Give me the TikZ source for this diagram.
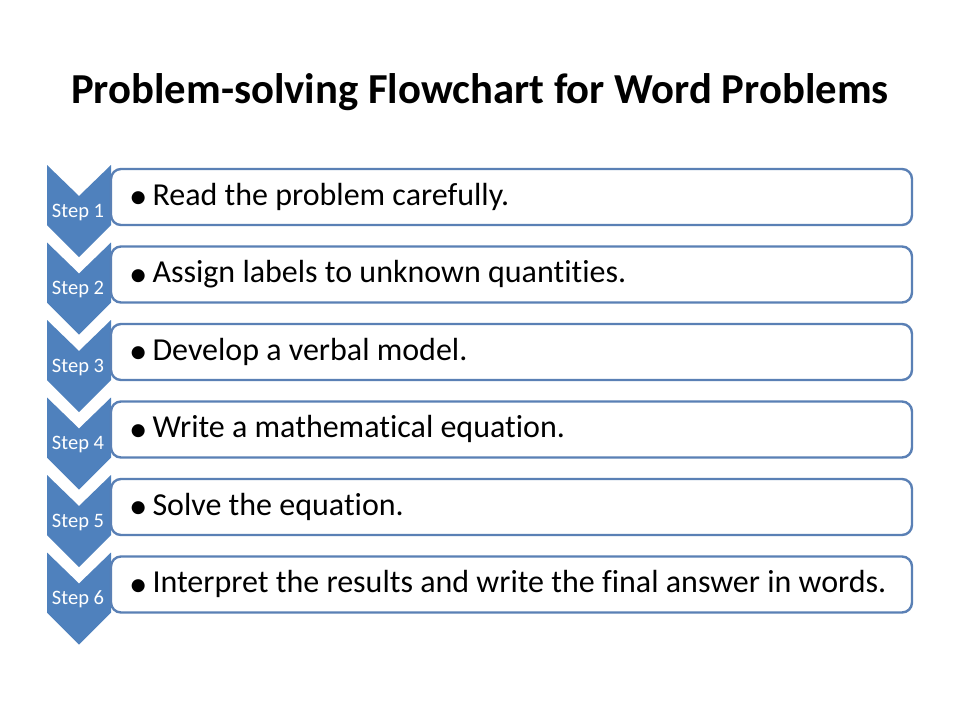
\documentclass[tikz,border=0pt]{standalone}
\usepackage{fontspec}
\setmainfont{Carlito}[Ligatures={NoCommon}]
\definecolor{chev}{HTML}{4F81BD}
\definecolor{boxline}{HTML}{5A80B5}
\begin{document}
\begin{tikzpicture}[x=1pt,y=-1pt,
  chevshape/.style={fill=chev},
  steplabel/.style={text=white,font=\fontsize{20.5}{24}\selectfont,inner sep=0pt},
  itembox/.style={draw=boxline,line width=2.4pt,rounded corners=10pt,fill=white},
  itemtext/.style={anchor=base west,font=\fontsize{32}{38}\selectfont,inner sep=0pt}]
\useasboundingbox[fill=white] (0,0) rectangle (960,720);
\node[font=\bfseries\fontsize{42.7}{50}\selectfont] (title) at (480,92) {Problem-solving Flowchart for Word Problems};
\foreach \i/\t in {0/Read the problem carefully.,
  1/Assign labels to unknown quantities.,
  2/Develop a verbal model.,
  3/Write a mathematical equation.,
  4/Solve the equation.,
  5/Interpret the results and write the final answer in words.}{
  \pgfmathsetmacro{\yt}{165+77.5*\i}
  \fill[chevshape] (47,\yt) -- (79,\yt+31) -- (111,\yt) -- (111,\yt+60) -- (79,\yt+92) -- (47,\yt+60) -- cycle;
  \pgfmathtruncatemacro{\n}{\i+1}
  \node[steplabel] (step\n) at (78,\yt+47) {Step \n};
  \draw[itembox] (111,\yt+4) rectangle (912,\yt+60);
  \node[itemtext] (item\n) at (129,\yt+40) {\raisebox{-3.5pt}{\scalebox{1.15}{\textbullet}}\hspace{5pt}\t};
}
\end{tikzpicture}
\end{document}
